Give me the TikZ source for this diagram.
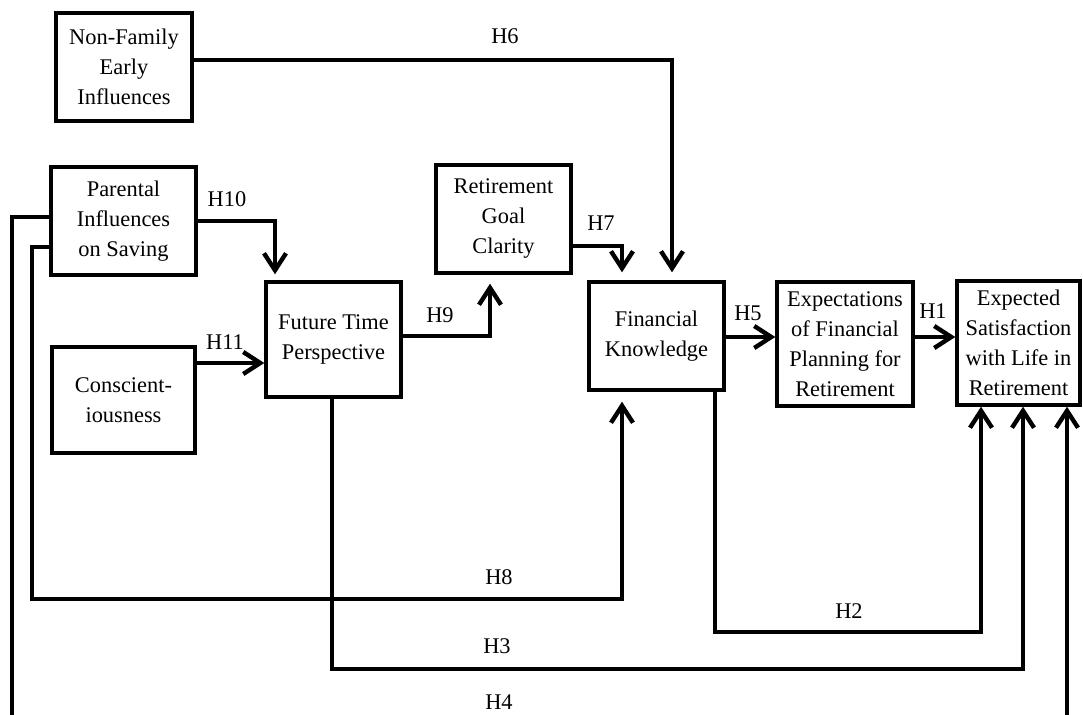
\documentclass[tikz,border=0pt]{standalone}
\usepackage{fontspec}
\setmainfont{Liberation Serif}
\usetikzlibrary{arrows.meta}
\begin{document}
\begin{tikzpicture}[x=1pt,y=-1pt,
  box/.style={draw,line width=3.4pt,inner sep=0pt,align=center,font=\fontsize{22.4}{30}\selectfont},
  lbl/.style={inner sep=0pt,font=\fontsize{22.4}{26}\selectfont},
  conn/.style={line width=4.4pt},
  arr/.style={conn,-{Straight Barb[length=17pt,width=22pt,line width=4.4pt]}}]
\clip (0,0) rectangle (1083,714);
% nodes
\node[box,minimum width=136pt,minimum height=108pt] (nf) at (124,67) {Non-Family\\Early\\Influences};
\node[box,minimum width=145pt,minimum height=108pt] (pi) at (123.5,221) {Parental\\Influences\\on Saving};
\node[box,minimum width=143pt,minimum height=106pt] (co) at (123.5,400) {Conscient-\\iousness};
\node[box,minimum width=135pt,minimum height=115pt] (ft) at (333.5,339.5) {Future Time\\Perspective};
\node[box,minimum width=135pt,minimum height=108pt] (rg) at (503.5,219) {Retirement\\Goal\\Clarity};
\node[box,minimum width=135pt,minimum height=108pt] (fk) at (656.5,336) {Financial\\Knowledge};
\node[box,minimum width=136pt,minimum height=124pt] (ex) at (845,344) {Expectations\\of Financial\\Planning for\\Retirement};
\node[box,minimum width=123pt,minimum height=124pt] (es) at (1018.5,343) {Expected\\Satisfaction\\with Life in\\Retirement};
% helper coordinates
\coordinate (y60) at (0,60);
\coordinate (y217) at (0,217);
\coordinate (y247) at (0,247);
\coordinate (y246) at (0,246);
\coordinate (y336) at (0,336);
\coordinate (y337) at (0,337);
\coordinate (y363) at (0,363);
\coordinate (x275) at (275,0);
\coordinate (x490) at (490,0);
\coordinate (x622) at (622,0);
\coordinate (x672) at (672,0);
\coordinate (x715) at (715,0);
\coordinate (x332) at (332,0);
\coordinate (x981) at (981,0);
\coordinate (x1023) at (1023,0);
\coordinate (x1067) at (1067,0);
\coordinate (c8a) at (32,247);
\coordinate (c8b) at (32,599);
\coordinate (c8c) at (622,599);
\coordinate (c2a) at (715,632);
\coordinate (c2b) at (981,632);
\coordinate (c3a) at (332,669);
\coordinate (c3b) at (1023,669);
\coordinate (c4a) at (12,217);
\coordinate (c4b) at (12,740);
\coordinate (c4c) at (1067,740);
% connectors
\draw[arr,shorten >=8pt] (nf.east |- y60) -| (x672 |- fk.north);
\draw[arr,shorten >=6pt] (pi.east) -| (x275 |- ft.north);
\draw[arr] (co.east |- y363) -- (ft.west |- y363);
\draw[arr,shorten >=9pt] (ft.east |- y336) -| (x490 |- rg.south);
\draw[arr,shorten >=8pt] (rg.east |- y246) -| (x622 |- fk.north);
\draw[arr] (fk.east |- y337) -- (ex.west |- y337);
\draw[arr] (ex.east |- y337) -- (es.west |- y337);
\draw[arr,shorten >=10pt] (pi.west |- y247) -- (c8a) -- (c8b) -- (c8c) -- (x622 |- fk.south);
\draw[arr] (x715 |- fk.south) -- (c2a) -- (c2b) -- (x981 |- es.south);
\draw[arr] (x332 |- ft.south) -- (c3a) -- (c3b) -- (x1023 |- es.south);
\draw[arr] (pi.west |- y217) -- (c4a) -- (c4b) -- (c4c) -- (x1067 |- es.south);
% labels
\node[lbl] (l6) at (505,36) {H6};
\node[lbl] (l10) at (227,199) {H10};
\node[lbl] (l11) at (225,342) {H11};
\node[lbl] (l9) at (440,315) {H9};
\node[lbl] (l7) at (601,223) {H7};
\node[lbl] (l5) at (748,313) {H5};
\node[lbl] (l1) at (933,311) {H1};
\node[lbl] (l8) at (499,577) {H8};
\node[lbl] (l2) at (849,611) {H2};
\node[lbl] (l3) at (497,646) {H3};
\node[lbl] (l4) at (499,702) {H4};
\end{tikzpicture}
\end{document}
